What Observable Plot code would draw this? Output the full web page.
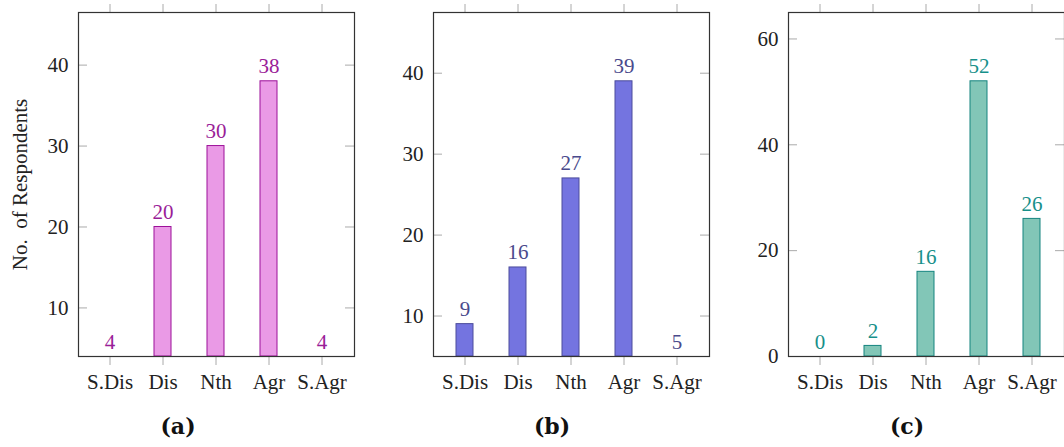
<!DOCTYPE html>
<html><head><meta charset="utf-8">
<script src="https://cdn.jsdelivr.net/npm/d3@7"></script>
<script src="https://cdn.jsdelivr.net/npm/@observablehq/plot@0.6"></script>
<style>
body{margin:0;background:#fff;}
#wrap{position:relative;width:1064px;height:447px;overflow:hidden;background:#fff;}
.panel{position:absolute;top:0;}
.cap{position:absolute;top:415px;font-family:"DejaVu Serif";font-weight:bold;font-size:22px;line-height:1;transform:translateX(-50%);color:#111;white-space:nowrap;}
</style></head><body><div id="wrap"></div>
<script>
const categories = ["S.Dis", "Dis", "Nth", "Agr", "S.Agr"];
const valuesA = [4, 20, 30, 38, 4];
const valuesB = [9, 16, 27, 39, 5];
const valuesC = [0, 2, 16, 52, 26];
const yTicksA = [10, 20, 30, 40];
const yTicksB = [10, 20, 30, 40];
const yTicksC = [0, 20, 40, 60];
const captions = ["(a)", "(b)", "(c)"];
const yLabel = "No.\u00a0 of Respondents";

const panels = [
  {values: valuesA, ticks: yTicksA, fill: "#EA9AE6", stroke: "#9C1099", text: "#9A1E98",
   left: 0, width: 360, marginLeft: 78, marginRight: 6, showLabel: true, capX: 178},
  {values: valuesB, ticks: yTicksB, fill: "#7474E0", stroke: "#4C4C9C", text: "#4A4A8C",
   left: 360, width: 360, marginLeft: 73, marginRight: 11, showLabel: false, capX: 552},
  {values: valuesC, ticks: yTicksC, fill: "#82C6B7", stroke: "#14847F", text: "#17908A",
   left: 720, width: 350, marginLeft: 68, marginRight: 6, showLabel: false, capX: 907}
];

const wrap = document.getElementById("wrap");
const H = 400, MT = 12, MB = 44;

panels.forEach((p, i) => {
  const data = categories.map((c, j) => ({cat: c, v: p.values[j]}));
  const ymin = d3.min(p.values), ymax = d3.max(p.values);
  const yDomain = [ymin, ymax + 0.25 * (ymax - ymin)];
  const frameW = p.width - p.marginLeft - p.marginRight;
  const marks = [
    Plot.barY(data, {x: "cat", y1: ymin, y2: "v", fill: p.fill, stroke: p.stroke, strokeWidth: 1}),
    Plot.text(data, {x: "cat", y: "v", text: d => String(d.v), fill: p.text, lineAnchor: "bottom", dy: -8}),
    Plot.tickY(p.ticks, {y: d => d, stroke: "#aaa", insetRight: frameW - 9}),
    Plot.tickY(p.ticks, {y: d => d, stroke: "#aaa", insetLeft: frameW - 9}),
    Plot.axisY({anchor: "left", ticks: p.ticks, tickSize: 0, tickPadding: 10, label: null, fill: "#222"}),
    Plot.axisX({anchor: "bottom", tickSize: 9, tickPadding: 9, label: null, stroke: "#aaa", strokeOpacity: 1, fill: "#222"}),
    Plot.axisX({anchor: "top", tickSize: 9, tickFormat: () => "", label: null, stroke: "#aaa", strokeOpacity: 1}),
    Plot.frame({stroke: "#333", strokeWidth: 1.2})
  ];
  if (p.showLabel) {
    marks.push(Plot.text([yLabel], {frameAnchor: "left", textAnchor: "middle", lineAnchor: "middle", rotate: -90, dx: -58, fill: "#222", fontSize: 21}));
  }
  const chart = Plot.plot({
    width: p.width, height: H,
    marginLeft: p.marginLeft, marginRight: p.marginRight, marginTop: MT, marginBottom: MB,
    style: {fontFamily: "'Liberation Serif'", fontSize: "21px", color: "#222", background: "transparent", overflow: "visible"},
    x: {type: "band", domain: categories, paddingInner: 0.679, paddingOuter: 0.443},
    y: {domain: yDomain},
    marks
  });
  chart.classList.add("panel");
  chart.style.left = p.left + "px";
  wrap.appendChild(chart);
  const cap = document.createElement("div");
  cap.className = "cap";
  cap.style.left = p.capX + "px";
  cap.textContent = captions[i];
  wrap.appendChild(cap);
});
</script>
</body></html>
